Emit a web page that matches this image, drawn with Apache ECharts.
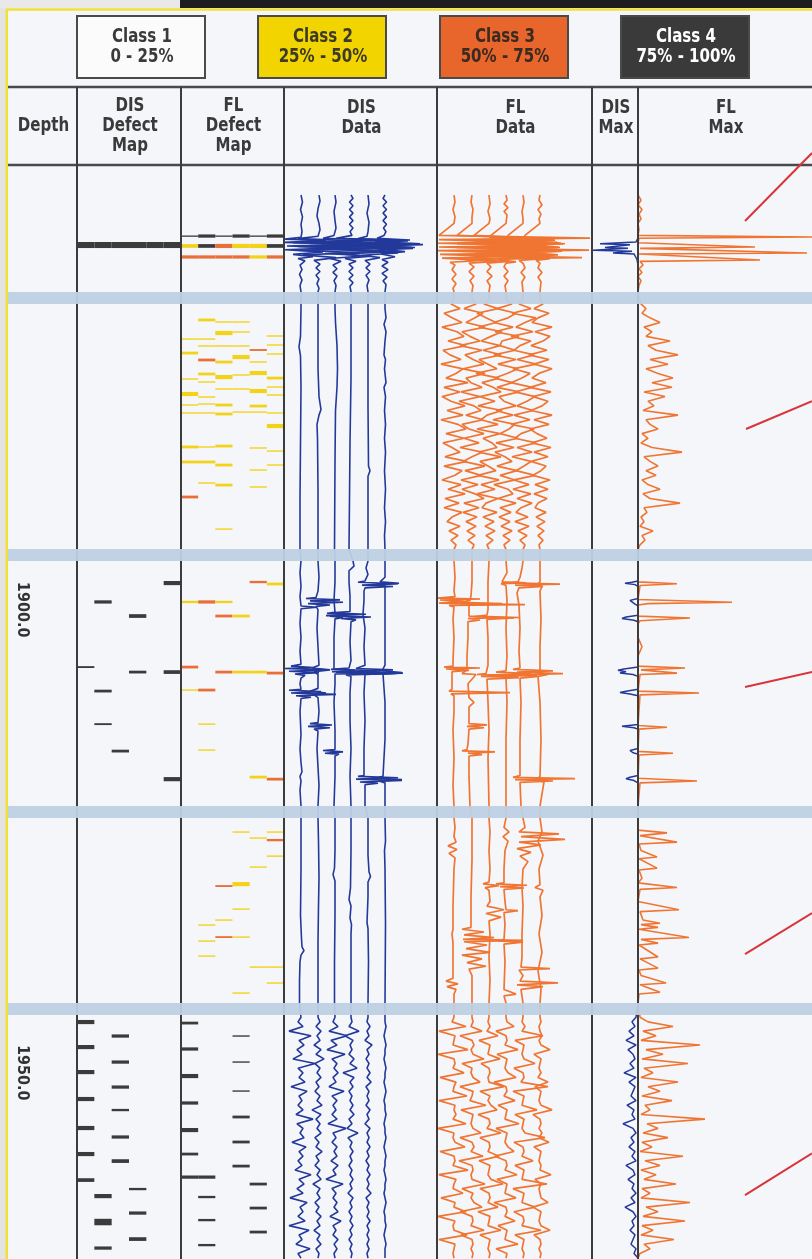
<!DOCTYPE html>
<html><head><meta charset="utf-8">
<script src="https://cdn.jsdelivr.net/npm/echarts@6/dist/echarts.min.js"></script>
<style>html,body{margin:0;padding:0;background:#f4f6f9}#c{width:812px;height:1259px}</style>
</head><body><div id="c"></div>
<script>
// ---------------- DATA ----------------
const classNames = ['Class 1', 'Class 2', 'Class 3', 'Class 4'];
const classRanges = ['0 - 25%', '25% - 50%', '50% - 75%', '75% - 100%'];
const columnTitles = ['Depth', 'DIS\nDefect\nMap', 'FL\nDefect\nMap', 'DIS\nData', 'FL\nData', 'DIS\nMax', 'FL\nMax'];
const depthTicks = [1900, 1950];
const breakBands = [[1865.71, 1867.01], [1893.46, 1894.75], [1921.2, 1922.5], [1942.47, 1943.76]];

// defect maps: [sensor lane, depth, axial length, class]
const disMap = [
  [0,1860.64,0.65,4],[1,1860.64,0.65,4],[2,1860.64,0.65,4],[3,1860.64,0.65,4],[4,1860.64,0.65,4],[5,1860.64,0.65,4],
  [5,1897.13,0.45,4],[1,1899.17,0.35,4],[3,1900.69,0.4,4],[0,1906.20,0.2,4],[3,1906.74,0.3,4],[5,1906.74,0.4,4],
  [1,1908.79,0.3,4],[1,1912.36,0.2,4],[2,1915.27,0.3,4],[5,1918.30,0.45,4],
  [0,1944.52,0.45,4],[2,1946.03,0.35,4],[0,1947.22,0.45,4],[2,1948.84,0.35,4],[0,1949.92,0.45,4],[2,1951.54,0.35,4],
  [0,1952.83,0.45,4],[2,1954.02,0.25,4],[0,1955.96,0.45,4],[2,1956.93,0.35,4],[0,1958.77,0.45,4],[2,1959.53,0.4,4],
  [0,1961.58,0.4,4],[3,1962.55,0.25,4],[1,1963.31,0.45,4],[3,1965.14,0.35,4],[1,1966.11,0.7,4],[3,1967.95,0.4,4],[1,1968.92,0.35,4]
];
const flMap = [
  [0,1859.67,0.12,4],[1,1859.67,0.35,4],[2,1859.67,0.12,4],[3,1859.67,0.35,4],[4,1859.67,0.12,4],[5,1859.67,0.35,4],
  [0,1860.74,0.4,2],[1,1860.74,0.4,4],[2,1860.74,0.45,3],[3,1860.74,0.45,2],[4,1860.74,0.45,2],[5,1860.74,0.4,4],
  [0,1861.93,0.35,3],[1,1861.93,0.35,3],[2,1861.93,0.35,3],[3,1861.93,0.35,3],[4,1861.93,0.35,2],[5,1861.93,0.35,3],
  [1,1868.73,0.3,2],[2,1868.95,0.15,2],[3,1868.95,0.15,2],[2,1870.14,0.45,2],[3,1870.03,0.15,2],[0,1870.79,0.15,2],
  [1,1870.79,0.15,2],[5,1870.46,0.15,2],[1,1871.54,0.15,2],[2,1871.54,0.15,2],[3,1871.54,0.15,2],[5,1871.43,0.15,2],
  [4,1871.97,0.2,3],[0,1872.30,0.3,2],[5,1872.40,0.15,2],[3,1872.73,0.45,2],[1,1873.05,0.3,3],[2,1873.27,0.3,2],
  [4,1873.27,0.15,2],[1,1874.56,0.3,2],[2,1874.89,0.45,2],[3,1874.67,0.15,2],[4,1874.46,0.45,2],[5,1875.00,0.3,2],
  [0,1875.10,0.15,2],[1,1875.43,0.15,2],[2,1876.18,0.15,2],[3,1876.18,0.15,2],[4,1876.40,0.45,2],[5,1875.97,0.15,2],
  [0,1876.72,0.45,2],[1,1877.05,0.15,2],[5,1876.83,0.15,2],[0,1877.91,0.15,2],[1,1877.80,0.15,2],[2,1877.91,0.3,2],
  [4,1878.02,0.3,2],[0,1878.77,0.15,2],[1,1878.77,0.15,2],[2,1878.88,0.3,2],[3,1878.67,0.15,2],[4,1878.67,0.15,2],
  [5,1878.77,0.15,2],[5,1880.18,0.45,2],[0,1882.44,0.3,2],[1,1882.44,0.15,2],[2,1882.34,0.3,2],[4,1882.55,0.15,2],
  [5,1882.88,0.15,2],[0,1884.06,0.3,2],[1,1884.06,0.3,2],[2,1884.39,0.3,2],[5,1884.39,0.15,2],[4,1884.93,0.15,2],
  [1,1886.33,0.15,2],[2,1886.55,0.3,2],[4,1886.76,0.15,2],[0,1887.84,0.3,3],[2,1891.30,0.15,2],
  [4,1897.02,0.25,3],[5,1897.23,0.3,2],[0,1899.17,0.25,2],[1,1899.17,0.35,3],[2,1899.17,0.25,2],[2,1900.69,0.3,3],
  [3,1900.69,0.3,2],[0,1906.20,0.3,3],[2,1906.74,0.3,3],[3,1906.74,0.3,2],[4,1906.74,0.3,2],[5,1906.85,0.3,3],
  [0,1908.68,0.15,2],[1,1908.68,0.3,3],[1,1912.36,0.15,2],[1,1915.16,0.15,2],[4,1918.08,0.3,2],[5,1918.30,0.3,3],
  [3,1924.01,0.15,2],[5,1924.01,0.15,2],[4,1924.66,0.15,2],[5,1924.88,0.25,3],[5,1926.61,0.15,2],[4,1927.79,0.15,2],
  [3,1929.63,0.45,2],[2,1929.84,0.2,3],[3,1932.33,0.15,2],[2,1933.51,0.15,2],[1,1934.05,0.15,2],[2,1935.35,0.2,3],
  [3,1935.35,0.15,2],[1,1935.78,0.15,2],[1,1937.40,0.15,2],[4,1938.59,0.15,2],[5,1938.59,0.15,2],[5,1940.31,0.15,2],
  [3,1941.39,0.15,2],
  [0,1944.63,0.3,4],[3,1946.03,0.15,4],[0,1947.43,0.35,4],[3,1948.84,0.15,4],[0,1950.35,0.45,4],[3,1951.97,0.15,4],
  [0,1953.26,0.35,4],[3,1954.77,0.3,4],[0,1956.18,0.45,4],[3,1957.47,0.3,4],[0,1958.77,0.3,4],[3,1960.07,0.3,4],
  [0,1961.26,0.35,4],[1,1961.26,0.35,4],[4,1962.01,0.3,4],[1,1963.41,0.25,4],[4,1964.60,0.3,4],[1,1965.90,0.25,4],
  [4,1967.19,0.3,4],[1,1968.60,0.25,4]
];

// DIS data traces: [depth, signal] per sensor, by section
const disS1 = [
  [[1855.24,0],[1856.0,1.5],[1856.8,-0.5],[1857.6,1.5],[1858.4,0],[1859.2,1],[1859.8,0],[1860.0,-16],[1860.15,25],[1860.35,-17],[1860.55,50],[1860.75,-14],[1860.95,35],[1861.15,-16],[1861.4,22],[1861.65,-8],[1861.9,12],[1862.1,-3],[1862.35,4],[1862.8,-1],[1863.3,1],[1863.8,-1.5],[1864.4,1],[1865.0,-1],[1865.7,0]],
  [[1855.24,1],[1855.9,2],[1856.7,0],[1857.5,-1],[1858.3,1],[1859.0,2],[1859.7,0],[1859.95,-20],[1860.2,45],[1860.4,-25],[1860.6,70],[1860.8,-20],[1861.0,55],[1861.2,-22],[1861.45,40],[1861.7,-15],[1862.0,18],[1862.3,-4],[1862.7,2],[1863.1,-2],[1863.5,2],[1863.9,-2],[1864.3,1],[1864.8,-1],[1865.3,1],[1865.7,0]],
  [[1855.24,0],[1856.0,1],[1857.0,-1],[1858.0,0],[1858.8,1],[1859.6,-1],[1859.9,-12],[1860.1,40],[1860.3,-30],[1860.5,65],[1860.7,-25],[1860.9,80],[1861.1,-20],[1861.3,50],[1861.55,-10],[1861.8,30],[1862.1,-5],[1862.4,6],[1862.8,-2],[1863.2,2],[1863.6,-2],[1864.0,2],[1864.5,-1],[1865.0,1],[1865.7,0]],
  [[1855.24,0],[1855.6,2],[1856.0,-1.5],[1856.4,2],[1856.8,-1.5],[1857.2,2],[1857.6,-1.5],[1858.0,2],[1858.4,-1.5],[1858.8,2],[1859.2,-1],[1859.6,1],[1859.9,-15],[1860.1,50],[1860.3,-20],[1860.5,68],[1860.7,-30],[1860.9,60],[1861.1,-15],[1861.35,45],[1861.6,-10],[1861.85,20],[1862.1,-6],[1862.4,5],[1862.7,-2],[1863.1,2],[1863.5,-2],[1863.9,2],[1864.3,-2],[1864.7,2],[1865.1,-1],[1865.7,0]],
  [[1855.24,0],[1856.2,1],[1857.2,-1],[1858.2,1],[1859.2,0],[1859.7,-1],[1859.95,-10],[1860.2,40],[1860.4,-15],[1860.6,55],[1860.8,-12],[1861.0,45],[1861.25,-10],[1861.5,30],[1861.75,-6],[1862.0,12],[1862.3,-3],[1862.7,2],[1863.1,-2],[1863.5,2],[1863.9,-2],[1864.4,1],[1865.0,-1],[1865.7,0]],
  [[1855.24,0],[1855.6,-2],[1856.0,1.5],[1856.4,-2],[1856.8,1.5],[1857.2,-2],[1857.6,1.5],[1858.0,-2],[1858.4,1.5],[1858.8,-1.5],[1859.2,1],[1859.6,-1],[1859.9,-8],[1860.1,25],[1860.3,-10],[1860.5,35],[1860.7,-8],[1860.9,28],[1861.1,-6],[1861.35,20],[1861.6,-4],[1861.9,10],[1862.2,-3],[1862.5,3],[1862.9,-3],[1863.3,3],[1863.7,-3],[1864.1,2],[1864.5,-2],[1864.9,1],[1865.7,0]]
];
const disS2 = [
  [[1867.5,0],[1870.5,-0.5],[1871.6,-2],[1872.6,-0.5],[1876.0,0],[1882.0,-0.5],[1888.0,-1],[1893.5,-1]],
  [[1867.5,0],[1874.0,0],[1877.0,1],[1878.4,3],[1879.0,1],[1880.0,-1],[1881.5,-0.5],[1887.0,0],[1893.5,0]],
  [[1867.5,0],[1869.0,0.5],[1871.5,2],[1874.0,2.5],[1876.0,2],[1878.5,0.5],[1884.0,0],[1893.5,-0.5]],
  [[1867.5,0],[1875.0,0],[1882.0,-1],[1888.0,-1.5],[1893.5,-2]],
  [[1867.5,0],[1878.0,0],[1884.5,0.5],[1885.0,2],[1885.6,0],[1893.5,0]],
  [[1867.5,0],[1868.5,1],[1869.2,-1],[1870.0,1],[1871.0,0],[1872.5,-1],[1873.0,0.5],[1874.0,-0.5],[1875.5,1],[1876.0,-1],[1877.0,0.5],[1878.5,-0.5],[1880.0,0.5],[1881.5,-0.5],[1883.0,0.5],[1885.0,-0.5],[1887.0,0.5],[1889.0,-0.5],[1890.5,0.5],[1892.0,-0.5],[1893.5,0]]
];
const disS3 = [
  [[1894.75,0],[1896.0,-1],[1897.5,0],[1898.6,-1],[1899.6,0],[1899.75,16],[1899.9,0],[1901.5,-1],[1903.0,0],[1904.5,-1],[1905.9,0],[1906.1,-10],[1906.25,12],[1906.35,-16],[1906.5,26],[1906.65,-12],[1906.8,18],[1906.95,-6],[1907.1,4],[1907.4,0],[1908.0,-1],[1908.6,0],[1908.7,-12],[1908.85,20],[1909.0,-10],[1909.15,35],[1909.3,-5],[1909.45,10],[1909.6,0],[1911.0,-1],[1913.5,0],[1915.0,-1],[1916.5,0],[1917.5,1],[1918.0,-1],[1918.5,0],[1919.5,-1],[1921.2,0]],
  [[1894.75,0],[1896.5,1],[1898.0,0],[1898.7,-2],[1898.8,-12],[1898.95,22],[1899.05,-8],[1899.2,25],[1899.35,-10],[1899.5,12],[1899.65,-2],[1900.0,0],[1902.0,-1],[1904.0,0],[1906.0,1],[1906.3,-6],[1906.5,12],[1906.7,-4],[1907.0,0],[1908.5,0],[1908.8,-8],[1909.0,8],[1909.2,-4],[1909.5,0],[1911.0,1],[1912.2,0],[1912.3,-8],[1912.45,14],[1912.6,-10],[1912.75,12],[1912.9,-4],[1913.1,0],[1915.0,-1],[1917.0,0],[1919.0,1],[1921.2,0]],
  [[1894.75,0],[1897.0,0],[1899.0,-1],[1900.3,0],[1900.4,-8],[1900.55,12],[1900.7,-5],[1900.85,8],[1901.0,0],[1903.0,-1],[1905.0,-1],[1906.4,-1],[1906.55,20],[1906.7,-3],[1906.85,68],[1906.95,0],[1908.0,0],[1910.0,-1],[1913.0,0],[1915.1,0],[1915.2,-12],[1915.35,8],[1915.5,-10],[1915.6,4],[1915.8,0],[1918.0,0],[1921.2,-1]],
  [[1894.75,2],[1895.3,3],[1895.8,-2],[1897.0,-2],[1898.5,-1],[1900.2,-1],[1900.35,-20],[1900.5,15],[1900.65,-25],[1900.8,20],[1900.95,-10],[1901.1,5],[1901.3,0],[1903.5,-1],[1905.5,0],[1906.3,-2],[1906.45,-20],[1906.6,30],[1906.75,-15],[1906.9,45],[1907.05,-5],[1907.2,0],[1909.0,-1],[1912.0,-1],[1915.0,0],[1918.0,-1],[1921.2,0]],
  [[1894.75,0],[1895.5,-2],[1896.2,0],[1896.9,-3],[1897.05,-10],[1897.2,30],[1897.35,-6],[1897.5,25],[1897.65,-3],[1898.0,-4],[1899.0,-4],[1900.5,-5],[1902.0,-3],[1904.0,-4],[1906.0,-3],[1906.35,-12],[1906.5,25],[1906.65,-8],[1906.85,32],[1907.0,-3],[1909.0,-4],[1912.0,-3],[1915.0,-4],[1917.9,-4],[1918.0,-10],[1918.15,30],[1918.3,-12],[1918.45,34],[1918.6,-8],[1918.75,10],[1918.9,-3],[1921.2,-3]],
  [[1894.75,0],[1896.5,0],[1897.0,-5],[1897.15,14],[1897.3,-4],[1897.45,0],[1900.0,0],[1903.0,0],[1906.0,0],[1906.6,-3],[1906.8,17],[1906.95,-2],[1907.1,0],[1910.0,0],[1914.0,0],[1918.0,-2],[1918.2,-10],[1918.35,17],[1918.5,-6],[1918.7,0],[1921.2,0]]
];
const disS4 = [
  [[1922.5,0],[1928.0,0],[1933.0,-0.5],[1935.5,0.5],[1936.4,1],[1936.8,3],[1937.3,0],[1938.0,-1],[1940.0,-1.5],[1942.5,-1.5]],
  [[1922.5,0],[1925.0,0.5],[1929.0,1],[1932.0,0.5],[1936.0,0],[1942.5,0]],
  [[1922.5,0],[1926.0,0],[1927.9,-0.5],[1928.6,-2],[1929.3,0],[1933.0,0],[1938.0,-0.5],[1942.5,-0.5]],
  [[1922.5,0],[1926.0,0],[1930.0,-0.5],[1931.3,-2],[1932.0,0],[1933.3,-1],[1934.0,0.5],[1935.0,0],[1942.5,0]],
  [[1922.5,0],[1926.5,0],[1928.3,1],[1928.8,2.5],[1929.4,0],[1931.0,0],[1933.8,-1],[1934.4,0],[1938.0,0.5],[1942.5,0]],
  [[1922.5,0],[1925.0,0.5],[1926.0,-0.5],[1928.0,0],[1934.0,0.5],[1942.5,0]]
];
// section 5: one reading every 0.5 m from 1944.0
const disS5 = [
  [0,-3,2,-12,10,-2,3,-4,1,-8,14,-3,2,-2,4,-10,6,-2,1,-3,2,-5,12,-4,2,-1,3,-9,5,-2,2,-3,1,-6,10,-2,3,-4,2,-11,6,-1,2,-3,4,-12,8,-2,1,-5,9,-3,0],
  [0,2,-2,3,-1,2,-4,3,-2,6,-3,2,-1,3,-2,1,-3,2,-1,4,-6,3,-2,2,-1,3,-3,1,-2,4,-2,1,-3,2,-1,3,-5,2,-1,2,-3,1,-2,3,-1,2,-4,2,-1,3,-2,1,0],
  [0,-2,3,-6,12,-4,2,-8,10,-3,2,-1,3,-2,1,-6,9,-3,2,-2,1,-3,2,-7,11,-2,1,-3,2,-1,2,-4,3,-2,1,-9,8,-3,1,-2,2,-1,3,-5,6,-2,1,-2,3,-1,2,-1,0],
  [0,1,-2,8,-6,2,-1,1,-2,3,-1,6,-8,3,-1,2,-2,1,-1,2,-1,3,-2,1,-4,7,-3,1,-1,2,-1,1,-2,1,-1,2,-1,1,-3,2,-1,1,-2,1,-1,2,-1,1,-2,1,-1,1,0],
  [0,-1,2,-1,1,-3,4,-1,1,-2,1,-1,2,-1,3,-2,1,-1,1,-2,2,-1,1,-3,2,-1,1,-1,2,-1,1,-2,1,-1,2,-1,1,-1,3,-2,1,-1,1,-1,2,-1,1,-1,1,-1,1,-1,0],
  [0,0,1,0,-1,0,1,0,0,-1,0,1,0,0,-1,0,1,0,-1,0,0,1,0,-1,0,0,1,0,-1,0,1,0,0,-1,0,1,0,0,-1,0,1,0,-1,0,0,1,0,-1,0,1,0,0,0]
];

// FL data traces
const flS1 = [
  [[1855.24,0],[1856.0,1],[1856.8,-1],[1857.6,1],[1858.3,0],[1859.6,-15],[1859.8,-16],[1859.9,136],[1860.05,-15],[1860.3,60],[1860.45,-16],[1860.7,80],[1860.85,-15],[1861.1,70],[1861.25,-16],[1861.5,75],[1861.65,-14],[1861.9,50],[1862.05,-12],[1862.3,30],[1862.5,-4],[1862.8,1],[1863.3,-2],[1863.8,2],[1864.3,-2],[1864.8,2],[1865.3,-1],[1865.7,0]],
  [[1855.24,0],[1856.0,-1],[1856.8,1],[1857.6,0],[1858.3,0],[1859.6,-15],[1859.75,-16],[1859.95,70],[1860.1,-16],[1860.35,85],[1860.5,-15],[1860.75,75],[1860.9,-16],[1861.15,80],[1861.3,-15],[1861.55,65],[1861.7,-14],[1862.0,110],[1862.15,-12],[1862.4,25],[1862.6,-3],[1863.0,2],[1863.5,-3],[1864.0,2],[1864.5,-2],[1865.0,1],[1865.7,0]],
  [[1855.24,0],[1856.2,1],[1857.0,-1],[1857.8,1],[1858.3,0],[1859.6,-15],[1859.8,-16],[1860.0,60],[1860.15,-15],[1860.4,70],[1860.55,-16],[1860.8,65],[1860.95,-15],[1861.2,100],[1861.35,-14],[1861.6,55],[1861.75,-13],[1862.0,45],[1862.15,-10],[1862.4,20],[1862.6,-2],[1863.0,2],[1863.5,-2],[1864.0,3],[1864.5,-2],[1865.0,1],[1865.7,0]],
  [[1855.24,0],[1855.8,1],[1856.2,-2],[1856.6,2],[1857.0,-2],[1857.4,1],[1858.3,0],[1859.6,-15],[1859.85,-16],[1860.05,45],[1860.2,-15],[1860.45,55],[1860.6,-16],[1860.85,50],[1861.0,-15],[1861.25,48],[1861.4,-14],[1861.65,40],[1861.8,-12],[1862.05,30],[1862.2,-8],[1862.45,10],[1862.6,0],[1863.0,-2],[1863.5,2],[1864.0,-2],[1864.5,2],[1865.0,-1],[1865.7,0]],
  [[1855.24,0],[1856.0,1],[1857.0,-1],[1857.8,0],[1858.3,0],[1859.6,-15],[1859.9,-16],[1860.1,30],[1860.25,-15],[1860.5,40],[1860.65,-16],[1860.9,35],[1861.05,-15],[1861.3,38],[1861.45,-14],[1861.7,30],[1861.85,-12],[1862.1,20],[1862.3,-4],[1862.6,0],[1863.1,2],[1863.6,-2],[1864.1,2],[1864.6,-1],[1865.7,0]],
  [[1855.24,0],[1855.8,-1],[1856.3,2],[1856.8,-2],[1857.3,1],[1857.8,-1],[1858.3,0],[1859.6,-15],[1859.9,-16],[1860.1,15],[1860.25,-15],[1860.5,25],[1860.65,-16],[1860.9,20],[1861.05,-15],[1861.3,22],[1861.45,-14],[1861.7,18],[1861.85,-12],[1862.1,10],[1862.3,-4],[1862.6,0],[1863.1,-2],[1863.6,2],[1864.1,-2],[1864.6,1],[1865.7,0]]
];
// section 2: one reading every 0.5 m from 1866.5
const flS2 = [
  [0,-3,6,-10,-2,8,-12,3,10,-6,12,-11,-4,7,-13,9,2,-8,14,-10,6,-12,-3,11,-7,9,-13,4,12,-8,10,-11,-2,6,-9,13,-10,8,1,-12,7,-6,11,-9,5,-10,8,-2,-7,6,-5,4,-3,2,0],
  [0,4,-8,11,3,-6,13,-10,-2,8,-12,10,-7,1,12,-9,13,-6,-1,10,-11,8,-13,2,9,-6,11,-10,-3,12,-8,7,-12,10,0,-9,13,-7,9,-11,6,-10,3,12,-8,7,-9,5,-6,4,-5,3,-4,2,0],
  [0,-5,9,-12,-3,7,-10,13,2,-8,11,-6,12,-10,-1,8,-13,10,-7,4,12,-9,6,-11,13,-2,-8,9,-12,11,-6,3,8,-10,12,-9,-1,7,-11,10,-8,6,-12,9,-3,-7,8,-6,5,-4,6,-3,4,-2,0],
  [0,6,-9,10,2,-12,7,-11,13,-4,-6,9,-12,10,-8,12,1,-11,6,-9,13,-7,-2,10,-10,7,-13,9,3,-6,12,-10,8,-11,-1,6,-9,11,-6,9,-12,2,7,-8,10,-6,5,-7,4,-5,6,-3,4,-2,0],
  [0,-4,8,-11,13,2,-7,10,-12,8,-3,-9,11,-6,13,-10,7,-1,-12,9,-8,12,4,-6,10,-9,7,-12,11,-2,-8,13,-6,9,-11,8,1,-7,12,-9,6,-10,8,-6,9,-2,-7,5,-8,6,-5,4,-3,2,0],
  [0,3,-6,9,-2,-8,12,-5,10,3,-9,7,-11,9,-6,12,-1,-8,6,-10,11,-7,8,2,-9,12,-6,9,-10,-3,7,-8,11,-6,8,-9,6,1,-7,10,-5,8,-6,7,-2,-5,6,-4,5,-3,4,-2,3,-1,0]
];
const flS3 = [
  [[1894.75,0],[1896.5,1],[1898.0,0],[1898.6,1],[1898.75,-16],[1898.85,26],[1898.95,-14],[1899.1,10],[1899.3,-15],[1899.45,71],[1899.55,-5],[1899.7,0],[1901.0,-1],[1903.0,0],[1905.5,-1],[1906.1,-1],[1906.2,-10],[1906.3,26],[1906.4,-8],[1906.55,15],[1906.7,-2],[1908.6,-2],[1908.8,-5],[1908.95,56],[1909.1,-3],[1909.3,0],[1911.0,0],[1913.0,-1],[1916.0,0],[1919.0,-1],[1921.2,0]],
  [[1894.75,0],[1897.0,0],[1898.5,-1],[1899.0,-2],[1899.2,-12],[1899.35,30],[1899.5,-3],[1900.7,-3],[1900.85,48],[1900.95,-4],[1901.1,8],[1901.3,-4],[1903.0,-4],[1905.0,-5],[1906.5,-5],[1906.9,-10],[1907.0,4],[1908.0,-4],[1909.5,-3],[1910.0,2],[1910.5,-3],[1912.3,-3],[1912.45,15],[1912.6,-5],[1912.75,12],[1912.9,-3],[1914.5,-4],[1915.1,-5],[1915.25,-10],[1915.35,23],[1915.5,-4],[1915.65,10],[1915.8,-3],[1918.0,-3],[1921.2,-2]],
  [[1894.75,0],[1897.0,-1],[1900.0,-1],[1900.6,-2],[1900.75,-14],[1900.9,25],[1901.05,-2],[1903.0,-1],[1906.0,-1],[1906.9,-3],[1907.0,-12],[1907.1,48],[1907.2,-8],[1907.35,30],[1907.5,-2],[1910.0,-1],[1913.0,0],[1916.0,-1],[1921.2,0]],
  [[1894.75,0],[1896.0,1],[1896.6,-2],[1897.0,-4],[1897.1,20],[1897.2,-5],[1897.4,0],[1899.0,1],[1902.0,0],[1905.0,1],[1906.6,0],[1906.75,-10],[1906.9,25],[1907.05,-8],[1907.2,12],[1907.35,0],[1910.0,1],[1914.0,0],[1918.0,0],[1921.2,0]],
  [[1894.75,0],[1895.5,-1],[1896.5,-3],[1897.0,-5],[1897.1,-13],[1897.25,37],[1897.35,-8],[1897.5,20],[1897.65,-4],[1898.2,-6],[1899.5,-4],[1902.0,-3],[1904.5,-4],[1906.3,-3],[1906.45,-10],[1906.6,30],[1906.75,-6],[1906.9,40],[1907.05,-8],[1907.2,15],[1907.4,-3],[1910.0,-2],[1914.0,-3],[1917.9,-3],[1918.1,-10],[1918.25,52],[1918.35,-8],[1918.5,30],[1918.65,-3],[1921.2,-2]],
  [[1894.75,0],[1897.0,0],[1897.3,-3],[1897.5,2],[1898.0,0],[1901.0,1],[1904.0,0],[1906.8,0],[1907.0,8],[1907.2,-2],[1910.0,0],[1914.0,1],[1918.0,0],[1918.4,-4],[1918.6,4],[1921.2,0]]
];
const flS4 = [
  [[1922.5,0],[1923.5,1],[1924.5,0],[1925.1,2],[1925.5,-6],[1925.9,3],[1926.3,-5],[1926.8,1],[1928.0,0],[1932.0,-1],[1934.5,-1],[1935.0,-2],[1936.0,-1],[1938.5,-1],[1939.8,-1],[1940.1,-8],[1940.4,4],[1940.7,-7],[1941.0,2],[1941.5,0],[1942.47,0]],
  [[1922.5,0],[1927.0,0],[1931.0,-1],[1934.3,-1],[1934.5,-10],[1934.8,12],[1935.1,-8],[1935.4,22],[1935.6,-9],[1935.7,51],[1935.85,-8],[1936.2,15],[1936.6,-6],[1937.0,18],[1937.3,-10],[1937.7,10],[1938.1,-5],[1938.5,14],[1938.8,-3],[1939.5,0],[1942.47,0]],
  [[1922.5,0],[1924.0,1],[1926.0,0],[1928.0,1],[1929.4,0],[1929.6,-6],[1929.8,10],[1930.0,-4],[1930.3,0],[1931.5,1],[1932.0,-2],[1932.4,15],[1932.8,-3],[1933.2,12],[1933.6,0],[1935.0,1],[1937.5,0],[1940.0,1],[1942.47,0]],
  [[1922.5,0],[1923.5,-2],[1924.0,3],[1924.5,-3],[1925.0,2],[1926.0,-1],[1928.0,-2],[1929.5,-2],[1929.6,-10],[1929.75,21],[1929.9,-6],[1930.05,18],[1930.2,-2],[1931.5,-1],[1932.4,0],[1932.5,12],[1932.7,-2],[1934.0,-1],[1935.6,-2],[1935.75,-8],[1935.9,17],[1936.1,-2],[1938.0,-1],[1941.0,-2],[1941.5,10],[1941.7,-2],[1942.47,0]],
  [[1922.5,0],[1923.5,2],[1924.0,-4],[1924.2,36],[1924.5,-2],[1924.8,42],[1925.1,-4],[1925.4,18],[1925.8,-6],[1926.2,8],[1926.6,-3],[1927.2,5],[1928.0,0],[1930.0,-1],[1932.0,0],[1935.0,-1],[1937.5,-1],[1938.6,-2],[1938.75,27],[1938.9,-4],[1939.5,0],[1940.1,-3],[1940.3,35],[1940.5,-6],[1940.7,20],[1941.0,-2],[1942.47,0]],
  [[1922.5,0],[1924.0,2],[1925.0,-2],[1926.5,3],[1928.0,-1],[1929.7,0],[1930.0,-5],[1930.3,3],[1931.0,0],[1933.0,2],[1935.0,-1],[1937.0,2],[1939.0,-2],[1941.0,1],[1942.47,0]]
];
// section 5: one reading every 0.5 m from 1944.0
const flS5 = [
  [0,-2,12,-15,1,0,-1,14,-16,0,1,-1,10,-14,2,0,-1,13,-15,1,0,2,-1,12,-16,0,-1,1,11,-14,0,1,-1,14,-15,2,0,-1,9,-13,1,0,12,-16,1,-1,0,13,-15,1,0,-1,0],
  [0,1,-1,10,-12,0,2,-1,1,12,-10,0,-1,1,8,-12,1,0,-2,14,-11,1,0,-1,1,9,-12,0,2,-1,11,-13,0,1,-1,0,13,-10,1,-1,2,10,-12,0,1,-1,12,-11,0,1,-1,1,0],
  [0,-1,1,-2,9,-10,1,0,-1,11,-8,0,1,-1,0,15,-9,1,-1,2,8,-11,0,1,-2,12,-9,0,1,-1,10,-10,1,0,-1,2,14,-9,0,1,-1,9,-11,1,0,-1,12,-9,1,0,-1,1,0],
  [0,1,8,-10,0,1,-1,12,-9,1,0,-1,2,10,-12,0,1,-2,9,-8,1,0,-1,13,-10,1,0,-1,2,8,-11,0,1,-1,11,-9,1,0,-1,10,-12,0,1,-1,9,-8,1,0,-1,12,-10,1,0],
  [0,-1,2,-1,20,-8,1,0,-1,1,12,-9,0,1,-2,25,-10,1,0,-1,14,-8,1,0,-1,2,22,-9,0,1,-1,10,-8,1,0,-1,24,-10,1,0,-1,12,-9,0,1,-1,18,-8,1,0,-1,1,0],
  [0,1,-1,0,2,-1,1,10,-6,1,0,-1,1,-2,8,-5,1,0,-1,1,12,-7,0,1,-1,2,-1,9,-6,1,0,-1,1,0,11,-5,1,-1,0,1,8,-7,1,0,-1,1,10,-6,0,1,-1,1,0]
];

// DIS max (amplitude to the left) and FL max (to the right)
const disMaxS1 = [[1855.24,0],[1859.9,0],[1860.3,2],[1860.5,38],[1860.6,8],[1860.9,33],[1861.0,10],[1861.2,45],[1861.3,6],[1861.5,25],[1861.6,4],[1861.8,3],[1862.2,1],[1862.8,0],[1865.7,0],[1867.0,0],[1893.5,0]];
const disMaxS3 = [[1894.75,0],[1896.9,0],[1897.05,6],[1897.15,13],[1897.3,3],[1897.5,0],[1898.8,0],[1899.0,8],[1899.2,10],[1899.4,3],[1899.6,0],[1900.6,0],[1900.8,12],[1900.95,16],[1901.15,4],[1901.3,0],[1906.2,0],[1906.4,14],[1906.55,20],[1906.7,12],[1906.85,18],[1907.0,5],[1907.2,0],[1908.6,0],[1908.8,12],[1908.95,18],[1909.1,8],[1909.3,0],[1912.4,0],[1912.6,16],[1912.75,4],[1912.9,0],[1915.0,0],[1915.2,8],[1915.3,9],[1915.45,5],[1915.6,0],[1917.9,0],[1918.1,8],[1918.25,12],[1918.45,4],[1918.7,0],[1921.2,0],[1922.5,0],[1942.47,0]];
const disMaxS5 = [2,6,3,9,4,12,2,10,5,3,8,4,14,2,9,3,5,7,2,11,4,6,3,15,5,2,7,4,9,3,6,2,12,5,3,10,4,6,2,7,3,13,5,2,6,4,8,3,5,7,2,4,0];
const flMaxS1 = [[1855.24,0],[1855.8,3],[1856.3,0],[1856.8,4],[1857.3,1],[1857.8,3],[1858.3,0],[1859.0,1],[1859.6,0],[1859.77,174],[1859.9,1],[1860.4,0],[1860.85,117],[1861.0,2],[1861.5,169],[1861.6,1],[1862.26,122],[1862.4,2],[1862.8,5],[1863.2,1],[1863.6,4],[1864.0,0],[1864.5,3],[1865.0,1],[1865.7,0]];
const flMaxS2 = [3,8,4,12,22,6,14,8,32,10,18,40,12,30,8,20,35,14,34,6,27,10,16,5,40,8,12,20,4,10,3,14,44,6,12,20,8,18,4,10,22,5,12,42,6,9,3,6,2,15,4,7,2,0];
const flMaxS3 = [[1894.75,0],[1897.0,0],[1897.2,39],[1897.4,2],[1898.9,0],[1899.2,94],[1899.35,10],[1899.5,0],[1900.7,0],[1900.9,52],[1901.2,2],[1901.5,0],[1903.0,0],[1904.0,4],[1905.0,0],[1906.1,0],[1906.3,47],[1906.5,3],[1906.85,39],[1907.0,2],[1908.8,0],[1909.0,61],[1909.2,2],[1912.5,0],[1912.7,29],[1912.9,1],[1915.3,0],[1915.5,35],[1915.7,1],[1918.2,0],[1918.5,59],[1918.7,2],[1921.2,0]];
const flMaxS4 = [[1922.5,0],[1923.8,0],[1924.1,29],[1924.4,2],[1925.1,39],[1925.3,1],[1926.0,3],[1926.7,19],[1926.9,1],[1927.9,19],[1928.1,1],[1929.0,4],[1929.5,0],[1930.0,39],[1930.2,2],[1931.5,0],[1932.4,41],[1932.6,2],[1933.5,5],[1933.85,22],[1934.0,3],[1934.3,20],[1934.5,1],[1935.4,51],[1935.6,3],[1936.0,20],[1936.2,1],[1937.5,20],[1937.7,2],[1938.7,20],[1938.9,1],[1939.5,3],[1940.3,28],[1940.5,2],[1941.3,22],[1941.5,1],[1942.47,0]];
const flMaxS5 = [2,10,35,5,18,3,62,8,25,4,50,6,15,3,40,10,22,4,34,7,12,3,67,9,20,5,30,4,14,2,45,7,22,3,18,6,38,4,12,3,52,8,20,5,47,4,15,3,36,6,12,2,0];

// annotation leader lines in the FL Max track: [[amplitude, depth], [amplitude, depth]]
const callouts = [
  [[107,1858.05],[174,1850.7]],
  [[108,1880.5],[174,1877.5]],
  [[107,1908.35],[174,1906.74]],
  [[107,1937.18],[174,1932.75]],
  [[107,1963.2],[174,1958.7]]
];

// ---------------- LAYOUT ----------------
const TOP = 165, H = 1094, DMIN = 1852, DMAX = 1970.1;
const colEdges = [8, 77, 181, 284, 437, 592, 638, 812];
const disBase = [17, 34, 51, 67, 84, 101];
const flBase = [17, 35, 52, 69, 86, 103];
const classColors = {2: '#f3d21a', 3: '#e96f39', 4: '#3b3b3b'};
const BLUE = '#23399a', ORANGE = '#f07532';
const HFAM = '"DejaVu Sans Condensed", "DejaVu Sans", sans-serif';

const chart = echarts.init(document.getElementById('c'), null, {renderer: 'canvas'});

const xRanges = [[0,1],[0,6],[0,6],[0,153],[0,155],[0,46],[0,174]];
const grids = [], xAxes = [], yAxes = [];
for (let i = 0; i < 7; i++) {
  grids.push({left: colEdges[i], top: TOP, width: colEdges[i+1]-colEdges[i], height: H});
  xAxes.push({gridIndex: i, type: 'value', min: xRanges[i][0], max: xRanges[i][1], show: false, inverse: i === 5});
  yAxes.push({gridIndex: i, type: 'value', min: DMIN, max: DMAX, inverse: true, show: false});
}
grids.push({left: 8, top: TOP, width: 804, height: H});
xAxes.push({gridIndex: 7, type: 'value', min: 0, max: 1, show: false});
yAxes.push({gridIndex: 7, type: 'value', min: DMIN, max: DMAX, inverse: true, show: false});

function reg(start, vals) { return vals.map((v, i) => [start + i * 0.5, v]); }

const series = [];
function mapSeries(data, ax) {
  return {
    type: 'custom', xAxisIndex: ax, yAxisIndex: ax, z: 3, silent: true, data: data,
    encode: {x: 0, y: 1},
    renderItem: (p, api) => {
      const lane = api.value(0), d = api.value(1), len = api.value(2), cls = api.value(3);
      const a = api.coord([lane, d - len / 2]);
      const b = api.coord([lane + 1, d + len / 2]);
      return {type: 'rect', shape: {x: a[0], y: a[1], width: b[0] - a[0], height: Math.max(1.3, b[1] - a[1])},
              style: {fill: classColors[cls]}};
    }
  };
}
series.push(mapSeries(disMap, 1));
series.push(mapSeries(flMap, 2));

for (let k = 0; k < 6; k++) {
  const pairs = disS1[k].concat(disS2[k], disS3[k], disS4[k], reg(1944, disS5[k]));
  series.push({type: 'line', xAxisIndex: 3, yAxisIndex: 3, data: pairs.map(p => [disBase[k] + p[1], p[0]]),
    symbol: 'none', silent: true, z: 3, lineStyle: {color: BLUE, width: 1.6}});
}
for (let k = 0; k < 6; k++) {
  const pairs = flS1[k].concat(reg(1866.5, flS2[k]), flS3[k], flS4[k], reg(1944, flS5[k]));
  series.push({type: 'line', xAxisIndex: 4, yAxisIndex: 4, data: pairs.map(p => [flBase[k] + p[1], p[0]]),
    symbol: 'none', silent: true, z: 3, lineStyle: {color: ORANGE, width: 1.7}});
}
const dm = disMaxS1.concat(disMaxS3, reg(1944, disMaxS5));
series.push({type: 'line', xAxisIndex: 5, yAxisIndex: 5, data: dm.map(p => [p[1], p[0]]),
  symbol: 'none', silent: true, z: 3, lineStyle: {color: BLUE, width: 1.5}});
const fm = flMaxS1.concat(reg(1867, flMaxS2), flMaxS3, flMaxS4, reg(1944, flMaxS5));
series.push({type: 'line', xAxisIndex: 6, yAxisIndex: 6, data: fm.map(p => [p[1], p[0]]),
  symbol: 'none', silent: true, z: 3, lineStyle: {color: ORANGE, width: 1.6}});
series.push({type: 'lines', coordinateSystem: 'cartesian2d', xAxisIndex: 6, yAxisIndex: 6, clip: false, silent: true, z: 12,
  data: callouts.map(c => ({coords: c})), lineStyle: {color: '#d8343c', width: 2, opacity: 1}});
series.push({type: 'custom', xAxisIndex: 7, yAxisIndex: 7, z: 10, silent: true,
  data: breakBands.map(b => [0, b[0], b[1]]), encode: {x: 0, y: [1, 2]},
  renderItem: (p, api) => {
    const a = api.coord([0, api.value(1)]);
    const b = api.coord([1, api.value(2)]);
    return {type: 'rect', shape: {x: a[0], y: a[1], width: b[0] - a[0], height: b[1] - a[1]},
            style: {fill: '#bdd0e2', opacity: 0.95}};
  }});
series.push({type: 'custom', xAxisIndex: 0, yAxisIndex: 0, z: 8, silent: true,
  data: depthTicks.map(d => [0.2, d]), encode: {x: 0, y: 1},
  renderItem: (p, api) => {
    const c = api.coord([api.value(0), api.value(1)]);
    return {type: 'text', x: c[0], y: c[1], rotation: -Math.PI / 2,
      style: {text: api.value(1).toFixed(1), fill: '#333333', font: 'bold 16px ' + HFAM,
        align: 'center', verticalAlign: 'middle'}};
  }});

// ---------------- FRAME / HEADER ----------------
const g = [];
g.push({type: 'rect', shape: {x: 0, y: 0, width: 6, height: 1259}, style: {fill: '#e3e3e3'}, z: 1});
g.push({type: 'rect', shape: {x: 0, y: 0, width: 180, height: 8}, style: {fill: '#e9e9e9'}, z: 1});
g.push({type: 'rect', shape: {x: 180, y: 0, width: 632, height: 8}, style: {fill: '#1d1d1f'}, z: 1});
g.push({type: 'line', shape: {x1: 6, y1: 9.5, x2: 812, y2: 9.5}, style: {stroke: '#f2e03a', lineWidth: 2.5}, z: 2});
g.push({type: 'line', shape: {x1: 6.8, y1: 9, x2: 6.8, y2: 1259}, style: {stroke: '#f2e03a', lineWidth: 2.5}, z: 2});
g.push({type: 'line', shape: {x1: 8, y1: 87, x2: 812, y2: 87}, style: {stroke: '#4a4a4a', lineWidth: 2.5}, z: 4});
g.push({type: 'line', shape: {x1: 8, y1: 165, x2: 812, y2: 165}, style: {stroke: '#4a4a4a', lineWidth: 2.5}, z: 4});
for (let i = 1; i < colEdges.length - 1; i++) {
  g.push({type: 'line', shape: {x1: colEdges[i], y1: 87, x2: colEdges[i], y2: 1259}, style: {stroke: '#3c3c3c', lineWidth: 2}, z: 4});
}
const titleY = [126, 126, 126, 118, 118, 118, 118];
for (let i = 0; i < columnTitles.length; i++) {
  g.push({type: 'text', x: (colEdges[i] + colEdges[i+1]) / 2 + 1, y: titleY[i], z: 7, scaleX: 0.88,
    style: {text: columnTitles[i], fill: '#3a3a3a', font: 'bold 19px ' + HFAM,
      align: 'center', verticalAlign: 'middle', lineHeight: 20}});
}
const boxX = [77, 258, 440, 621];
const boxFill = ['#fbfbfb', '#f2d400', '#e8652b', '#3a3a3a'];
const boxText = ['#3a3a3a', '#3d3a2a', '#3a2a22', '#ffffff'];
for (let i = 0; i < 4; i++) {
  g.push({type: 'rect', shape: {x: boxX[i], y: 16, width: 128, height: 62},
    style: {fill: boxFill[i], stroke: '#4a4a4a', lineWidth: 2}, z: 6});
  g.push({type: 'text', x: boxX[i] + 65, y: 47, z: 7, scaleX: 0.88,
    style: {text: classNames[i] + '\n' + classRanges[i], fill: boxText[i], font: 'bold 19px ' + HFAM,
      align: 'center', verticalAlign: 'middle', lineHeight: 20}});
}

chart.setOption({
  backgroundColor: '#f4f6f9',
  animation: false,
  grid: grids, xAxis: xAxes, yAxis: yAxes,
  series: series,
  graphic: {elements: g}
});
</script></body></html>
